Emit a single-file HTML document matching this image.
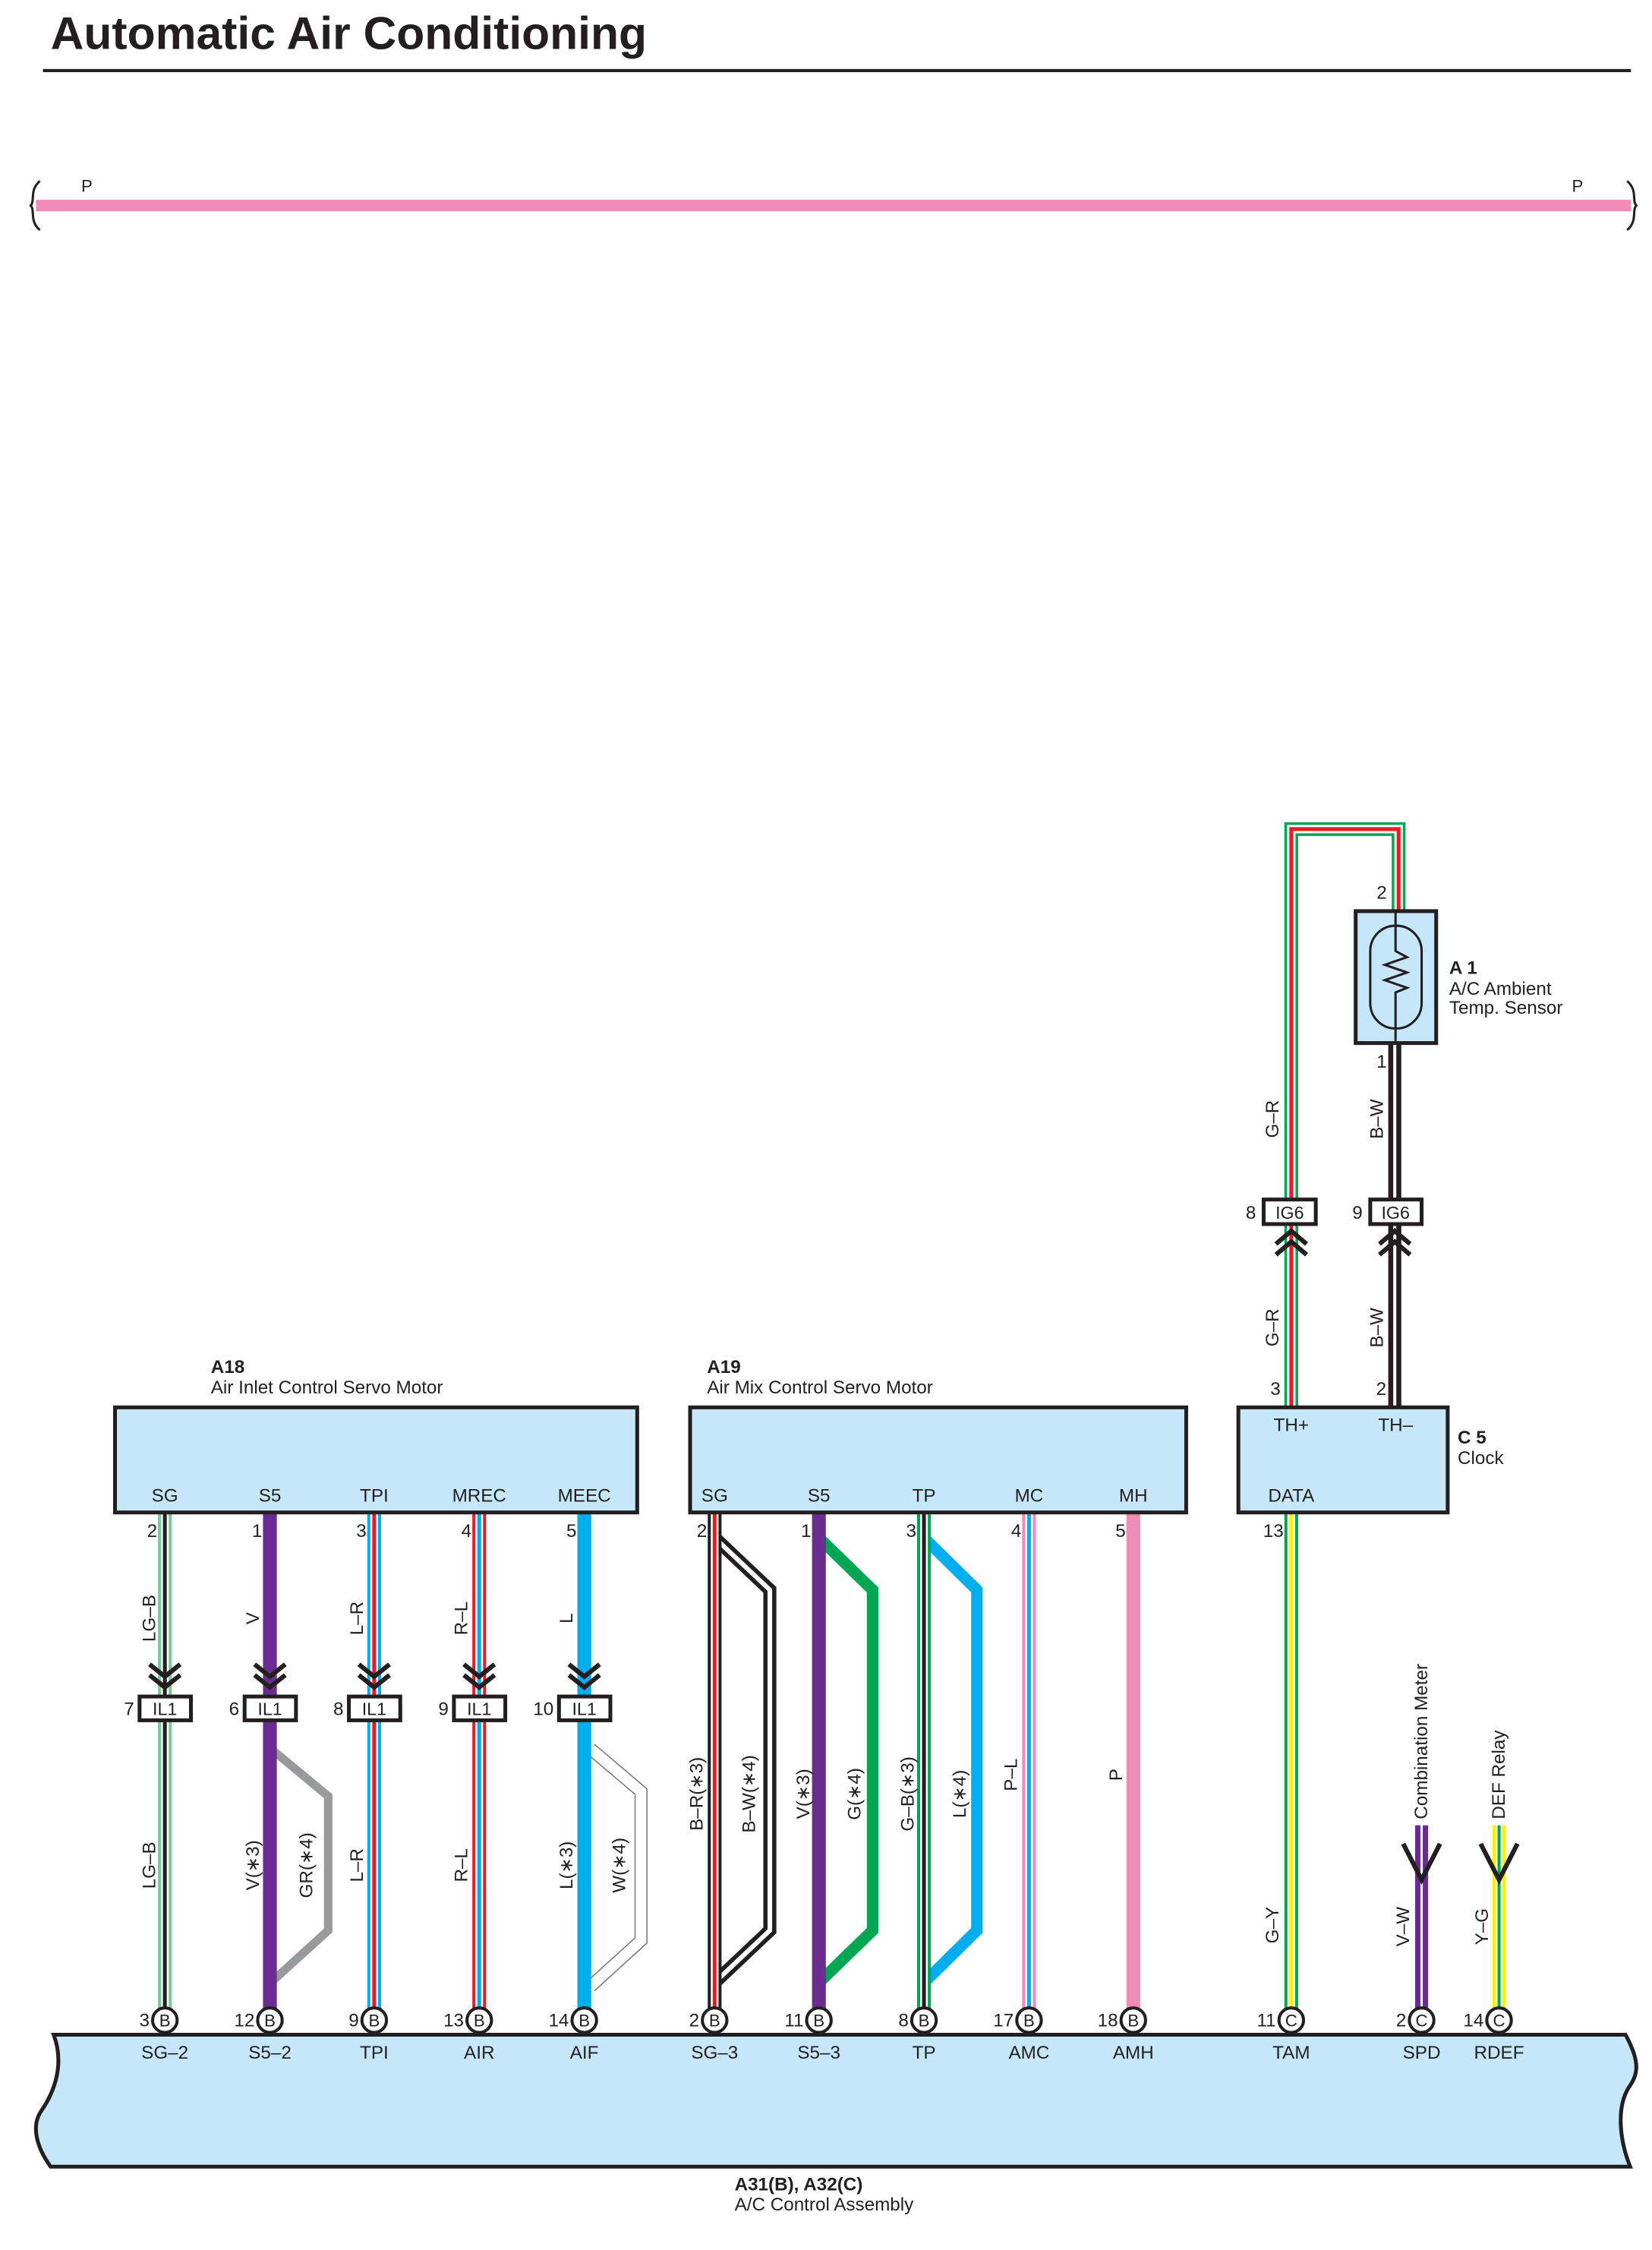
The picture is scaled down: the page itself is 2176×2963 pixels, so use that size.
<!DOCTYPE html>
<html><head><meta charset="utf-8"><style>
html,body{margin:0;padding:0;background:#fff}
svg{display:block}
text{font-family:"Liberation Sans",sans-serif;fill:#231f20}
</style></head><body>
<svg width="2176" height="2963" viewBox="0 0 2176 2963" xmlns="http://www.w3.org/2000/svg">
<g transform="scale(1.01)">
<text x="66" y="64" font-size="60" font-weight="bold">Automatic Air Conditioning</text>
<line x1="56" y1="92" x2="2127" y2="92" stroke="#231f20" stroke-width="4"/>
<!-- pink bus -->
<line x1="47" y1="268" x2="2127" y2="268" stroke="#f18cb9" stroke-width="15"/>
<path d="M52,236 C38,248 46,262 40,268 C46,274 38,288 52,300" fill="none" stroke="#231f20" stroke-width="3"/>
<path d="M2122,236 C2136,248 2128,262 2134,268 C2128,274 2136,288 2122,300" fill="none" stroke="#231f20" stroke-width="3"/>
<text x="106" y="250" font-size="22">P</text>
<text x="2050" y="250" font-size="22">P</text>

<g fill="none" stroke-linejoin="miter">
<path d="M1684,1835 V1081 H1824 V1188" stroke="#00a651" stroke-width="18"/>
<path d="M1684,1835 V1081 H1824 V1188" stroke="#fff" stroke-width="11"/>
<path d="M1684,1835 V1081 H1824 V1188" stroke="#e31e24" stroke-width="5"/>
<path d="M1819,1360 V1835" stroke="#231f20" stroke-width="17"/>
<path d="M1819,1360 V1835" stroke="#fff" stroke-width="4"/>
</g>
<rect x="1768" y="1188" width="105" height="172" fill="#c6e7f9" stroke="#231f20" stroke-width="5"/>
<rect x="1787" y="1207" width="67" height="134" rx="33" fill="none" stroke="#231f20" stroke-width="3"/>
<path d="M1820,1188 V1240 L1835,1248 L1806,1258 L1835,1268 L1806,1278 L1835,1288 L1820,1294 V1360" fill="none" stroke="#231f20" stroke-width="3"/>
<text x="1802" y="1172" font-size="24" text-anchor="middle">2</text>
<text x="1802" y="1392" font-size="24" text-anchor="middle">1</text>
<text x="1890" y="1270" font-size="24" font-weight="bold">A 1</text>
<text x="1890" y="1297" font-size="24">A/C Ambient</text>
<text x="1890" y="1322" font-size="24">Temp.  Sensor</text>
<rect x="1648" y="1564" width="68" height="32" fill="#fff" stroke="#231f20" stroke-width="5"/>
<text x="1682" y="1589" font-size="23" text-anchor="middle">IG6</text>
<text x="1638" y="1589" font-size="24" text-anchor="end">8</text>
<rect x="1787" y="1564" width="67" height="32" fill="#fff" stroke="#231f20" stroke-width="5"/>
<text x="1820" y="1589" font-size="23" text-anchor="middle">IG6</text>
<text x="1777" y="1589" font-size="24" text-anchor="end">9</text>
<g fill="none" stroke="#231f20" stroke-width="6">
<polyline points="1664,1622 1684,1605 1704,1622"/><polyline points="1664,1636 1684,1619 1704,1636"/>
<polyline points="1799,1622 1819,1605 1839,1622"/><polyline points="1799,1636 1819,1619 1839,1636"/>
</g>
<g font-size="24" text-anchor="middle" dominant-baseline="central">
<text transform="rotate(-90 1660 1459)" x="1660" y="1459">G–R</text>
<text transform="rotate(-90 1660 1731)" x="1660" y="1731">G–R</text>
<text transform="rotate(-90 1796 1459)" x="1796" y="1459">B–W</text>
<text transform="rotate(-90 1796 1731)" x="1796" y="1731">B–W</text>
</g>
<text x="1670" y="1819" font-size="24" text-anchor="end">3</text>
<text x="1808" y="1819" font-size="24" text-anchor="end">2</text>

<g fill="none">
<path d="M215,1972 V2620" stroke="#7dc79a" stroke-width="18"/><path d="M215,1972 V2620" stroke="#fff" stroke-width="10"/><path d="M215,1972 V2620" stroke="#231f20" stroke-width="5"/>
<polyline points="352,2279 428,2342 428,2517 352,2586" stroke="#999a9c" stroke-width="11"/>
<path d="M352,1972 V2620" stroke="#6a2c91" stroke-width="18"/>
<path d="M488,1972 V2620" stroke="#00aeef" stroke-width="18"/><path d="M488,1972 V2620" stroke="#fff" stroke-width="10"/><path d="M488,1972 V2620" stroke="#e31e24" stroke-width="5"/>
<path d="M625,1972 V2620" stroke="#e31e24" stroke-width="18"/><path d="M625,1972 V2620" stroke="#fff" stroke-width="10"/><path d="M625,1972 V2620" stroke="#00aeef" stroke-width="5"/>
<polyline points="770,2280 836,2336 836,2530 770,2590" stroke="#777" stroke-width="17"/>
<polyline points="770,2280 836,2336 836,2530 770,2590" stroke="#fff" stroke-width="14"/>
<path d="M762,1972 V2620" stroke="#00aeef" stroke-width="18"/>
<polyline points="932,2005 1004,2073 1004,2517 932,2585" stroke="#231f20" stroke-width="17"/>
<polyline points="932,2005 1004,2073 1004,2517 932,2585" stroke="#fff" stroke-width="6"/>
<path d="M932,1972 V2620" stroke="#231f20" stroke-width="18"/><path d="M932,1972 V2620" stroke="#fff" stroke-width="10"/><path d="M932,1972 V2620" stroke="#e31e24" stroke-width="5"/>
<polyline points="1068,2005 1138,2073 1138,2517 1068,2585" stroke="#00a651" stroke-width="15"/>
<path d="M1068,1972 V2620" stroke="#6a2c91" stroke-width="18"/>
<polyline points="1205,2005 1274,2073 1274,2517 1205,2585" stroke="#00aeef" stroke-width="15"/>
<path d="M1205,1972 V2620" stroke="#00a651" stroke-width="18"/><path d="M1205,1972 V2620" stroke="#fff" stroke-width="10"/><path d="M1205,1972 V2620" stroke="#231f20" stroke-width="5"/>
<path d="M1342,1972 V2620" stroke="#f18cb9" stroke-width="18"/><path d="M1342,1972 V2620" stroke="#fff" stroke-width="10"/><path d="M1342,1972 V2620" stroke="#00aeef" stroke-width="5"/>
<path d="M1478,1972 V2620" stroke="#f18cb9" stroke-width="18"/>
<path d="M1684,1972 V2620" stroke="#00a651" stroke-width="18"/><path d="M1684,1972 V2620" stroke="#fff" stroke-width="10"/><path d="M1684,1972 V2620" stroke="#fff200" stroke-width="5"/>
<path d="M1854,2380 V2620" stroke="#6a2c91" stroke-width="17"/><path d="M1854,2380 V2620" stroke="#fff" stroke-width="3"/>
<path d="M1955,2380 V2620" stroke="#fff200" stroke-width="17"/><path d="M1955,2380 V2620" stroke="#fff" stroke-width="8"/><path d="M1955,2380 V2620" stroke="#00a651" stroke-width="4"/>
</g>
<g fill="none" stroke="#231f20" stroke-width="6">
<polyline points="1830,2404 1854,2451 1878,2404"/>
<polyline points="1931,2404 1955,2451 1979,2404"/>
</g>

<rect x="150" y="1835" width="681" height="137" fill="#c6e7f9" stroke="#231f20" stroke-width="5"/>
<rect x="900" y="1835" width="647" height="137" fill="#c6e7f9" stroke="#231f20" stroke-width="5"/>
<rect x="1615" y="1835" width="273" height="137" fill="#c6e7f9" stroke="#231f20" stroke-width="5"/>
<text x="275" y="1790" font-size="24" font-weight="bold">A18</text>
<text x="275" y="1817" font-size="24">Air Inlet Control Servo Motor</text>
<text x="922" y="1790" font-size="24" font-weight="bold">A19</text>
<text x="922" y="1817" font-size="24">Air Mix Control Servo Motor</text>
<text x="1901" y="1882" font-size="24" font-weight="bold">C 5</text>
<text x="1901" y="1909" font-size="24">Clock</text>
<g font-size="24" text-anchor="middle">
<text x="215" y="1958">SG</text><text x="352" y="1958">S5</text><text x="488" y="1958">TPI</text><text x="625" y="1958">MREC</text><text x="762" y="1958">MEEC</text>
<text x="932" y="1958">SG</text><text x="1068" y="1958">S5</text><text x="1205" y="1958">TP</text><text x="1342" y="1958">MC</text><text x="1478" y="1958">MH</text>
<text x="1684" y="1866">TH+</text><text x="1820" y="1866">TH–</text><text x="1684" y="1958">DATA</text>
</g>
<g font-size="24" text-anchor="end">
<text x="205" y="2004">2</text><text x="342" y="2004">1</text><text x="478" y="2004">3</text><text x="615" y="2004">4</text><text x="752" y="2004">5</text>
<text x="922" y="2004">2</text><text x="1058" y="2004">1</text><text x="1195" y="2004">3</text><text x="1332" y="2004">4</text><text x="1468" y="2004">5</text>
<text x="1674" y="2004">13</text>
</g>

<g fill="none" stroke="#231f20" stroke-width="6">
<polyline points="195,2170 215,2186 235,2170"/><polyline points="195,2184 215,2200 235,2184"/>
<polyline points="332,2170 352,2186 372,2170"/><polyline points="332,2184 352,2200 372,2184"/>
<polyline points="468,2170 488,2186 508,2170"/><polyline points="468,2184 488,2200 508,2184"/>
<polyline points="605,2170 625,2186 645,2170"/><polyline points="605,2184 625,2200 645,2184"/>
<polyline points="742,2170 762,2186 782,2170"/><polyline points="742,2184 762,2200 782,2184"/>
</g>
<g fill="#fff" stroke="#231f20" stroke-width="5">
<rect x="182" y="2212" width="67" height="31"/><rect x="319" y="2212" width="67" height="31"/><rect x="455" y="2212" width="67" height="31"/><rect x="592" y="2212" width="67" height="31"/><rect x="729" y="2212" width="67" height="31"/>
</g>
<g font-size="23" text-anchor="middle">
<text x="215" y="2236">IL1</text><text x="352" y="2236">IL1</text><text x="488" y="2236">IL1</text><text x="625" y="2236">IL1</text><text x="762" y="2236">IL1</text>
</g>
<g font-size="24" text-anchor="end">
<text x="175" y="2236">7</text><text x="312" y="2236">6</text><text x="448" y="2236">8</text><text x="585" y="2236">9</text><text x="722" y="2236">10</text>
</g>

<g font-size="24" text-anchor="middle" dominant-baseline="central">
<text transform="rotate(-90 195 2110)" x="195" y="2110">LG–B</text>
<text transform="rotate(-90 330 2110)" x="330" y="2110">V</text>
<text transform="rotate(-90 466 2110)" x="466" y="2110">L–R</text>
<text transform="rotate(-90 602 2110)" x="602" y="2110">R–L</text>
<text transform="rotate(-90 739 2110)" x="739" y="2110">L</text>
<text transform="rotate(-90 195 2432)" x="195" y="2432">LG–B</text>
<text transform="rotate(-90 330 2432)" x="330" y="2432">V(∗3)</text>
<text transform="rotate(-90 400 2432)" x="400" y="2432">GR(∗4)</text>
<text transform="rotate(-90 466 2432)" x="466" y="2432">L–R</text>
<text transform="rotate(-90 602 2432)" x="602" y="2432">R–L</text>
<text transform="rotate(-90 739 2432)" x="739" y="2432">L(∗3)</text>
<text transform="rotate(-90 808 2432)" x="808" y="2432">W(∗4)</text>
<text transform="rotate(-90 909 2339)" x="909" y="2339">B–R(∗3)</text>
<text transform="rotate(-90 977 2339)" x="977" y="2339">B–W(∗4)</text>
<text transform="rotate(-90 1048 2339)" x="1048" y="2339">V(∗3)</text>
<text transform="rotate(-90 1115 2339)" x="1115" y="2339">G(∗4)</text>
<text transform="rotate(-90 1184 2339)" x="1184" y="2339">G–B(∗3)</text>
<text transform="rotate(-90 1252 2339)" x="1252" y="2339">L(∗4)</text>
<text transform="rotate(-90 1319 2314)" x="1319" y="2314">P–L</text>
<text transform="rotate(-90 1456 2314)" x="1456" y="2314">P</text>
<text transform="rotate(-90 1660 2510)" x="1660" y="2510">G–Y</text>
<text transform="rotate(-90 1830 2512)" x="1830" y="2512">V–W</text>
<text transform="rotate(-90 1933 2512)" x="1933" y="2512">Y–G</text>
</g>
<g font-size="24" text-anchor="start" dominant-baseline="central">
<text transform="rotate(-90 1854 2372)" x="1854" y="2372">Combination Meter</text>
<text transform="rotate(-90 1955 2372)" x="1955" y="2372">DEF Relay</text>
</g>

<path d="M70,2653 H2120 C2140,2690 2136,2705 2124,2722 C2108,2748 2112,2790 2126,2825 H66 C48,2800 40,2772 54,2752 C72,2726 84,2690 70,2653 Z" fill="#c6e7f9" stroke="#231f20" stroke-width="5"/>
<g fill="#fff" stroke="#231f20" stroke-width="4">
<circle cx="215" cy="2634" r="16"/><circle cx="352" cy="2634" r="16"/><circle cx="488" cy="2634" r="16"/><circle cx="625" cy="2634" r="16"/><circle cx="762" cy="2634" r="16"/>
<circle cx="932" cy="2634" r="16"/><circle cx="1068" cy="2634" r="16"/><circle cx="1205" cy="2634" r="16"/><circle cx="1342" cy="2634" r="16"/><circle cx="1478" cy="2634" r="16"/>
<circle cx="1684" cy="2634" r="16"/><circle cx="1854" cy="2634" r="16"/><circle cx="1955" cy="2634" r="16"/>
</g>
<g font-size="22" text-anchor="middle">
<text x="215" y="2642">B</text><text x="352" y="2642">B</text><text x="488" y="2642">B</text><text x="625" y="2642">B</text><text x="762" y="2642">B</text>
<text x="932" y="2642">B</text><text x="1068" y="2642">B</text><text x="1205" y="2642">B</text><text x="1342" y="2642">B</text><text x="1478" y="2642">B</text>
<text x="1684" y="2642">C</text><text x="1854" y="2642">C</text><text x="1955" y="2642">C</text>
</g>
<g font-size="24" text-anchor="end">
<text x="195" y="2642">3</text><text x="332" y="2642">12</text><text x="468" y="2642">9</text><text x="605" y="2642">13</text><text x="742" y="2642">14</text>
<text x="912" y="2642">2</text><text x="1048" y="2642">11</text><text x="1185" y="2642">8</text><text x="1322" y="2642">17</text><text x="1458" y="2642">18</text>
<text x="1664" y="2642">11</text><text x="1834" y="2642">2</text><text x="1935" y="2642">14</text>
</g>
<g font-size="24" text-anchor="middle">
<text x="215" y="2684">SG–2</text><text x="352" y="2684">S5–2</text><text x="488" y="2684">TPI</text><text x="625" y="2684">AIR</text><text x="762" y="2684">AIF</text>
<text x="932" y="2684">SG–3</text><text x="1068" y="2684">S5–3</text><text x="1205" y="2684">TP</text><text x="1342" y="2684">AMC</text><text x="1478" y="2684">AMH</text>
<text x="1684" y="2684">TAM</text><text x="1854" y="2684">SPD</text><text x="1955" y="2684">RDEF</text>
</g>
<text x="958" y="2856" font-size="24" font-weight="bold">A31(B), A32(C)</text>
<text x="958" y="2882" font-size="24">A/C Control Assembly</text>
</g>
</svg>
</body></html>
